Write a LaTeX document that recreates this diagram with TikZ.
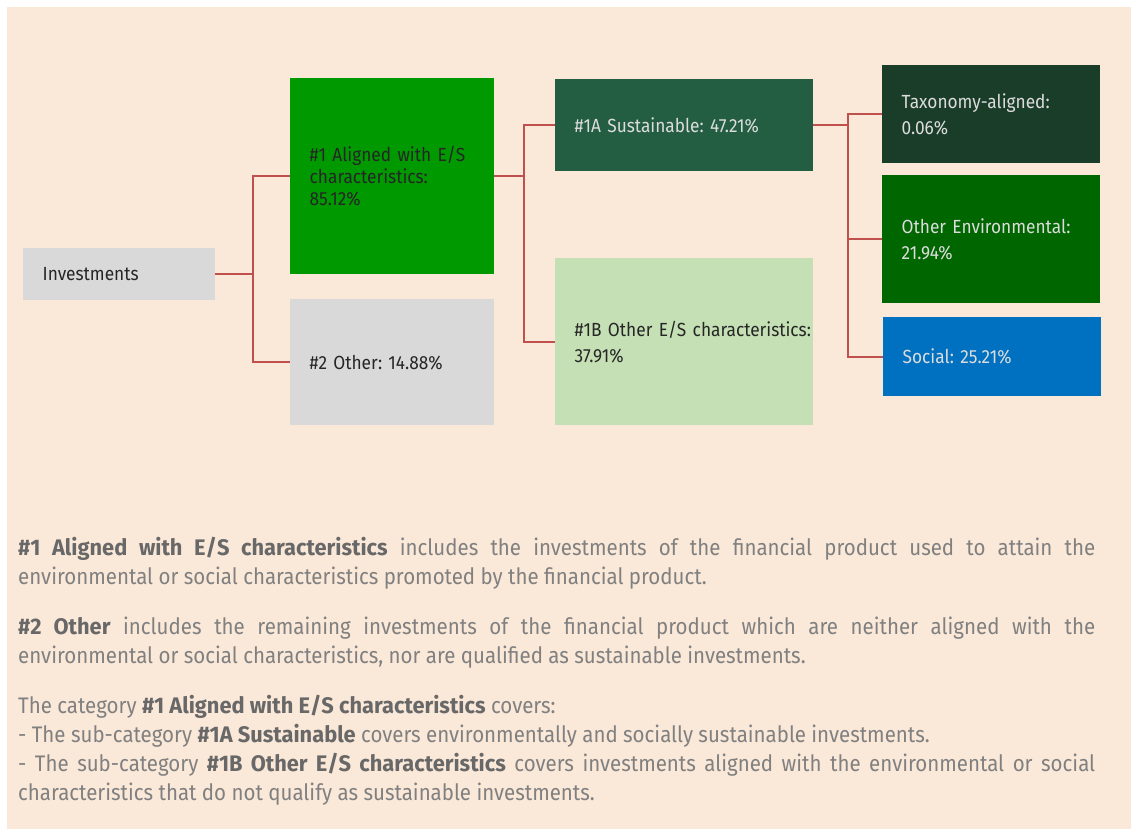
\documentclass[tikz,border=0pt]{standalone}
\usepackage{fontspec}
\setmainfont{Fira Sans}[FakeStretch=0.91, BoldFeatures={FakeStretch=0.97}]
\definecolor{bgc}{HTML}{FAE8D8}
\definecolor{conn}{HTML}{C0504D}
\definecolor{grayb}{HTML}{D9D9D9}
\definecolor{greenb}{HTML}{009900}
\definecolor{susb}{HTML}{235E43}
\definecolor{lgreenb}{HTML}{C5E0B4}
\definecolor{taxb}{HTML}{1A3D2A}
\definecolor{envb}{HTML}{006600}
\definecolor{socb}{HTML}{0070C0}
\definecolor{darktxt}{HTML}{262626}
\definecolor{lighttxt}{HTML}{DCDCDC}
\definecolor{bodytxt}{HTML}{808080}
\definecolor{boldtxt}{HTML}{686868}
\newcommand{\hl}[1]{\textcolor{boldtxt}{\bfseries #1}}
\begin{document}
\frenchspacing
\begin{tikzpicture}[x=1pt,y=-1pt,
  boxn/.style={rectangle, draw=none, anchor=north west, inner ysep=0pt, inner xsep=19.5pt,
    align=left, font=\fontsize{19}{26}\selectfont},
  connline/.style={draw=conn, line width=2pt},
  body/.style={anchor=base west, inner sep=0pt, text=bodytxt, font=\fontsize{22.5}{29}\selectfont}]
\useasboundingbox (0,0) rectangle (1133,830);
\fill[white] (0,0) rectangle (1133,830);
\fill[bgc] (7,7) rectangle (1131,829);

% boxes
\node[boxn, fill=grayb, text=darktxt, minimum width=192pt, minimum height=52pt, text width=153pt] (inv) at (23,248) {Investments};
\node[boxn, fill=greenb, text=black!85, minimum width=204pt, minimum height=196pt, text width=165pt, font=\fontsize{19}{22}\selectfont] (a1) at (290,78) {\#1 Aligned with E/S\\characteristics:\\85.12\%};
\node[boxn, fill=grayb, text=darktxt, minimum width=204pt, minimum height=126pt, text width=165pt] (a2) at (290,299) {\#2 Other: 14.88\%};
\node[boxn, fill=susb, text=lighttxt, minimum width=258pt, minimum height=92pt, text width=219pt] (s1) at (555,79) {\#1A Sustainable: 47.21\%};
\node[boxn, fill=lgreenb, text=darktxt, minimum width=258pt, minimum height=167pt, text width=219pt] (s2) at (555,258) {\mbox{\#1B Other E/S characteristics:}\\37.91\%};
\node[boxn, fill=taxb, text=lighttxt, minimum width=218pt, minimum height=98pt, text width=179pt] (t1) at (882,65) {Taxonomy-aligned:\\0.06\%};
\node[boxn, fill=envb, text=lighttxt, minimum width=218pt, minimum height=128pt, text width=179pt] (t2) at (882,175) {\mbox{Other Environmental:}\\21.94\%};
\node[boxn, fill=socb, text=lighttxt, minimum width=218pt, minimum height=79pt, text width=179pt] (t3) at (883,317) {Social: 25.21\%};

% junction coordinates
\coordinate (j1) at (253,0);
\coordinate (j2) at (524,0);
\coordinate (j3) at (848,0);

% connectors
\draw[connline] (inv.east) -- (inv.east -| j1);
\draw[connline] (a1.west) -- (a1.west -| j1) -- (a2.west -| j1) -- (a2.west);
\draw[connline] (a1.east) -- (a1.east -| j2);
\draw[connline] (s1.west) -- (s1.west -| j2) -- (s2.west -| j2) -- (s2.west);
\draw[connline] (s1.east) -- (s1.east -| j3);
\draw[connline] (t1.west) -- (t1.west -| j3) -- (t3.west -| j3) -- (t3.west);
\draw[connline] (t2.west -| j3) -- (t2.west);

% body text
\node[body] (l1) at (18,555) {\makebox[1077pt][s]{\hl{\#1 Aligned with E/S characteristics} includes the investments of the financial product used to attain the}};
\node[body] (l2) at (18,584) {environmental or social characteristics promoted by the financial product.};
\node[body] (l3) at (18,634) {\makebox[1077pt][s]{\hl{\#2 Other} includes the remaining investments of the financial product which are neither aligned with the}};
\node[body] (l4) at (18,663) {environmental or social characteristics, nor are qualified as sustainable investments.};
\node[body] (l5) at (18,713) {The category \hl{\#1 Aligned with E/S characteristics} covers:};
\node[body] (l6) at (18,742) {- The sub-category \hl{\#1A Sustainable} covers environmentally and socially sustainable investments.};
\node[body] (l7) at (18,771) {\makebox[1077pt][s]{- The sub-category \hl{\#1B Other E/S characteristics} covers investments aligned with the environmental or social}};
\node[body] (l8) at (18,800) {characteristics that do not qualify as sustainable investments.};
\end{tikzpicture}
\end{document}
